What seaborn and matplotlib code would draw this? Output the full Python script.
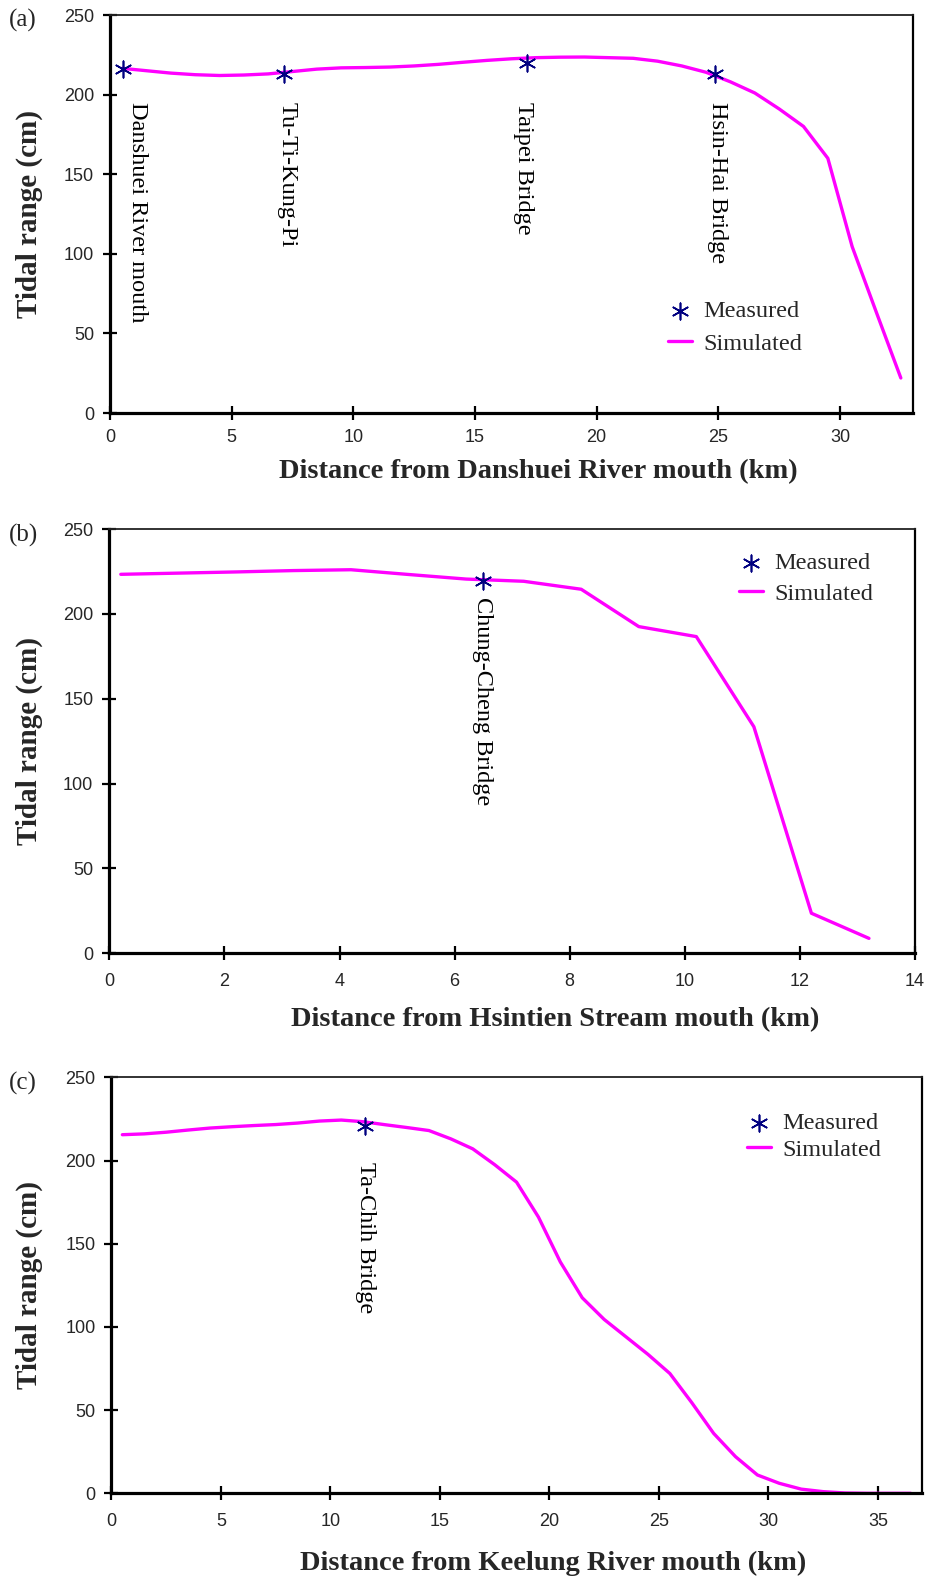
import matplotlib
matplotlib.use("Agg")
import matplotlib.pyplot as plt
import seaborn as sns
import numpy as np
import pandas as pd

sns.set_style("ticks")
plt.rcParams['font.family'] = ['Liberation Serif', 'DejaVu Serif']

# ---------------- data ----------------
# (a) Danshuei River
a_sim_x = [0.5, 1.5, 2.5, 3.5, 4.5, 5.5, 6.5, 7.5, 8.5, 9.5, 10.5, 11.5, 12.5, 13.5,
           14.5, 15.5, 16.5, 17.5, 18.5, 19.5, 20.5, 21.5, 22.5, 23.5, 24.5, 25.5,
           26.5, 27.5, 28.5, 29.5, 30.5, 31.5, 32.5]
a_sim_y = [216.5, 215.0, 213.5, 212.5, 212.0, 212.3, 213.0, 214.5, 216.0, 216.8, 217.0,
           217.3, 218.0, 219.0, 220.3, 221.5, 222.5, 223.2, 223.5, 223.6, 223.2, 222.8,
           221.0, 218.0, 214.0, 208.0, 201.0, 191.0, 180.0, 160.0, 104.5, 63.0, 22.0]
a_meas_x = [0.54, 7.15, 17.15, 24.87]
a_meas_y = [216.3, 213.2, 219.9, 212.8]
a_names = ["Danshuei River mouth", "Tu-Ti-Kung-Pi", "Taipei Bridge", "Hsin-Hai Bridge"]
a_name_x = [1.15, 7.27, 17.0, 24.95]

# (b) Hsintien Stream
b_sim_x = [0.2, 1.2, 2.2, 3.2, 4.2, 5.2, 6.2, 7.2, 8.2, 9.2, 10.2, 11.2, 12.2, 13.2]
b_sim_y = [223.3, 224.0, 224.7, 225.5, 226.0, 223.2, 220.5, 219.2, 214.5, 192.5,
           186.6, 133.5, 23.6, 8.8]
b_meas_x = [6.5]
b_meas_y = [219.6]
b_names = ["Chung-Cheng Bridge"]
b_name_x = [6.49]

# (c) Keelung River
c_sim_x = [0.5, 1.5, 2.5, 3.5, 4.5, 5.5, 6.5, 7.5, 8.5, 9.5, 10.5, 11.5, 12.5, 13.5,
           14.5, 15.5, 16.5, 17.5, 18.5, 19.5, 20.5, 21.5, 22.5, 23.5, 24.5, 25.5,
           26.5, 27.5, 28.5, 29.5, 30.5, 31.5, 32.5, 33.5, 34.5, 35.5, 36.5]
c_sim_y = [215.5, 216.0, 217.0, 218.3, 219.5, 220.3, 221.0, 221.6, 222.5, 223.7, 224.3,
           223.3, 221.5, 219.8, 218.0, 213.0, 207.0, 197.5, 187.0, 166.0, 139.0, 117.5,
           104.5, 94.0, 83.5, 72.0, 54.5, 36.0, 22.0, 11.0, 6.0, 2.5, 1.0, 0.2, 0.0,
           0.0, 0.0]
c_meas_x = [11.58]
c_meas_y = [220.8]
c_names = ["Ta-Chih Bridge"]
c_name_x = [11.6]

y_ticks = [0, 50, 100, 150, 200, 250]

W, H = 929, 1578
fig = plt.figure(figsize=(W / 100, H / 100), dpi=100)


def axbox(l, r, t, b):
    return [l / W, (H - b) / H, (r - l) / W, (b - t) / H]


panels = [
    dict(box=axbox(110, 913, 15, 413), tag="(a)", tag_y=20,
         sx=a_sim_x, sy=a_sim_y, mx=a_meas_x, my=a_meas_y,
         names=a_names, nx=a_name_x, ny=195.5,
         xlim=33, xticks=[0, 5, 10, 15, 20, 25, 30],
         xlabel="Distance from Danshuei River mouth (km)", xl_x=538, xl_y=472,
         leg=(668, 300), lsp=0.44, xpad=6.5),
    dict(box=axbox(109.3, 915, 529, 953.3), tag="(b)", tag_y=535,
         sx=b_sim_x, sy=b_sim_y, mx=b_meas_x, my=b_meas_y,
         names=b_names, nx=b_name_x, ny=210,
         xlim=14, xticks=[0, 2, 4, 6, 8, 10, 12, 14],
         xlabel="Distance from Hsintien Stream mouth (km)", xl_x=555, xl_y=1020,
         leg=(739, 552), lsp=0.36, xpad=9.5),
    dict(box=axbox(111.4, 921.7, 1077.3, 1493.3), tag="(c)", tag_y=1083,
         sx=c_sim_x, sy=c_sim_y, mx=c_meas_x, my=c_meas_y,
         names=c_names, nx=c_name_x, ny=199,
         xlim=37, xticks=[0, 5, 10, 15, 20, 25, 30, 35],
         xlabel="Distance from Keelung River mouth (km)", xl_x=553, xl_y=1563,
         leg=(747, 1112), lsp=0.2, xpad=9.5),
]

for p in panels:
    ax = fig.add_axes(p["box"])
    sim = pd.DataFrame({"x": p["sx"], "y": p["sy"]})
    meas = pd.DataFrame({"x": p["mx"], "y": p["my"]})
    sns.lineplot(data=sim, x="x", y="y", ax=ax, color="#FF00FF", linewidth=2.4,
                 sort=False, estimator=None, label="Simulated", zorder=2)
    sns.scatterplot(data=meas, x="x", y="y", ax=ax, marker=(6, 2, 0), s=140,
                    color="#000080", linewidth=1.2, label="Measured", zorder=3)
    for name, x in zip(p["names"], p["nx"]):
        ax.text(x, p["ny"], name, rotation=270, ha="center", va="top",
                fontsize=17.5, color="black")

    ax.set_xlim(0, p["xlim"])
    ax.set_ylim(0, 250)
    ax.set_xticks(p["xticks"])
    ax.set_yticks(y_ticks)
    ax.set_xticklabels([str(v) for v in p["xticks"]],
                       fontfamily=['Liberation Sans', 'DejaVu Sans'], fontsize=13)
    ax.set_yticklabels([str(v) for v in y_ticks],
                       fontfamily=['Liberation Sans', 'DejaVu Sans'], fontsize=13)
    ax.tick_params(axis="both", direction="inout", length=10, width=1.6, color="black")
    ax.tick_params(axis="x", pad=p["xpad"])
    ax.tick_params(axis="y", pad=6.5)
    for side in ["left", "bottom"]:
        ax.spines[side].set_linewidth(2.3)
        ax.spines[side].set_color("black")
    ax.spines["right"].set_linewidth(1.6)
    ax.spines["right"].set_color("black")
    ax.spines["top"].set_linewidth(1.3)
    ax.spines["top"].set_color("#222222")
    ax.spines["top"].set_visible(True)
    ax.spines["right"].set_visible(True)

    ax.set_ylabel("Tidal range (cm)", fontsize=21, fontweight="bold")
    ax.yaxis.label.set_verticalalignment("center")
    ax.yaxis.set_label_coords((29 - p["box"][0] * W) / (p["box"][2] * W), 0.5)
    ax.set_xlabel(p["xlabel"], fontsize=20.5, fontweight="bold")
    l = p["box"][0] * W
    b = H - p["box"][1] * H
    ax.xaxis.set_label_coords((p["xl_x"] - l) / (p["box"][2] * W),
                              (b - p["xl_y"]) / (p["box"][3] * H))
    ax.xaxis.label.set_verticalalignment("center")

    fig.text(9 / W, 1 - p["tag_y"] / H, p["tag"], fontsize=18, ha="left", va="center")

    handles, labels = ax.get_legend_handles_labels()
    order = [labels.index("Measured"), labels.index("Simulated")]
    lx, ly = p["leg"]
    ax.legend([handles[i] for i in order], [labels[i] for i in order],
              loc="upper left", bbox_to_anchor=(lx / W, 1 - ly / H),
              bbox_transform=fig.transFigure, frameon=False, fontsize=17.5,
              borderpad=0, borderaxespad=0, handlelength=1.0, handletextpad=0.45,
              labelspacing=p["lsp"], scatterpoints=1)

fig.savefig("out.png", dpi=100)
